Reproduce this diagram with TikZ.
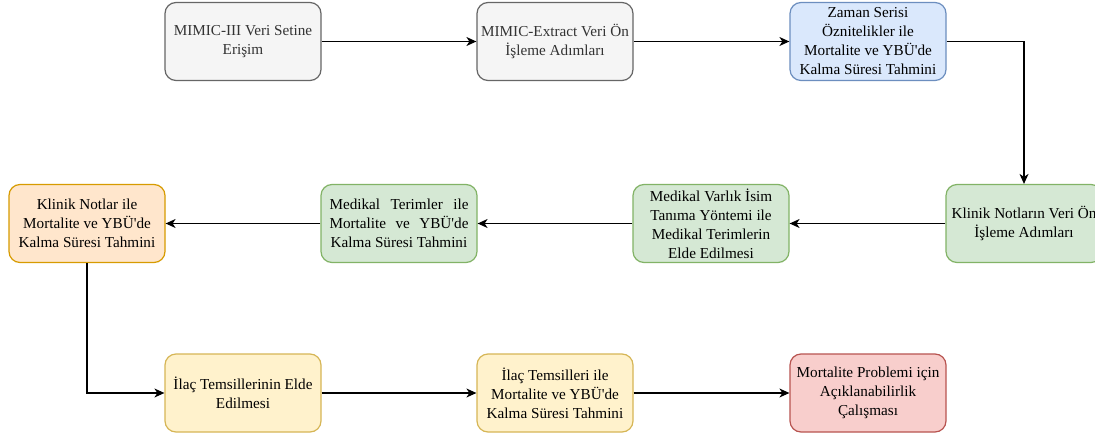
\documentclass[tikz,border=0pt]{standalone}
\usepackage{fontspec}
\setmainfont{Liberation Serif}[Ligatures=TeXOff]
\usetikzlibrary{arrows.meta}
\definecolor{grayfill}{HTML}{F5F5F5}\definecolor{graydraw}{HTML}{666666}\definecolor{graytext}{HTML}{333333}
\definecolor{bluefill}{HTML}{DAE8FC}\definecolor{bluedraw}{HTML}{6C8EBF}
\definecolor{greenfill}{HTML}{D5E8D4}\definecolor{greendraw}{HTML}{82B366}
\definecolor{orangefill}{HTML}{FFE6CC}\definecolor{orangedraw}{HTML}{D79B00}
\definecolor{yellowfill}{HTML}{FFF2CC}\definecolor{yellowdraw}{HTML}{D6B656}
\definecolor{redfill}{HTML}{F8CECC}\definecolor{reddraw}{HTML}{B85450}
\tikzset{
  box/.style={rectangle, rounded corners=11pt, minimum width=156pt, minimum height=78pt,
    inner sep=1pt, align=center, line width=1.2pt,
    font=\fontsize{15.2}{19}\selectfont},
  graybox/.style={box, fill=grayfill, draw=graydraw, text=graytext},
  bluebox/.style={box, fill=bluefill, draw=bluedraw},
  greenbox/.style={box, fill=greenfill, draw=greendraw},
  orangebox/.style={box, fill=orangefill, draw=orangedraw},
  yellowbox/.style={box, fill=yellowfill, draw=yellowdraw},
  redbox/.style={box, fill=redfill, draw=reddraw},
  flow/.style={line width=1.2pt, -{Stealth[length=10pt,width=9pt,inset=3pt]}},
}
\begin{document}
\begin{tikzpicture}[x=1pt,y=-1pt]
\useasboundingbox (0,0) rectangle (1095,439);
\clip (0,0) rectangle (1095,439);
\fill[white] (0,0) rectangle (1095,439);
% first row
\node[graybox] (access) at (243,41.5) {MIMIC-III Veri Setine\\Erişim};
\node[graybox] (extract) at (555,41.5) {MIMIC-Extract Veri Ön\\İşleme Adımları};
\node[bluebox] (series) at (868,41.5) {Zaman Serisi\\Öznitelikler ile\\Mortalite ve YBÜ'de\\Kalma Süresi Tahmini};
% second row
\node[greenbox] (notesprep) at (1024,223.5) {Klinik Notların Veri Ön\\İşleme Adımları};
\node[greenbox] (ner) at (711,223.5) {Medikal Varlık İsim\\Tanıma Yöntemi ile\\Medikal Terimlerin\\Elde Edilmesi};
\node[greenbox] (terms) at (399,223.5) {\makebox[139pt][s]{Medikal Terimler ile}\\\makebox[139pt][s]{Mortalite ve YBÜ'de}\\Kalma Süresi Tahmini};
\node[orangebox] (notes) at (87,223.5) {Klinik Notlar ile\\Mortalite ve YBÜ'de\\Kalma Süresi Tahmini};
% third row
\node[yellowbox] (drugrep) at (243,393) {İlaç Temsillerinin Elde\\Edilmesi};
\node[yellowbox] (drugpred) at (555,393) {İlaç Temsilleri ile\\Mortalite ve YBÜ'de\\Kalma Süresi Tahmini};
\node[redbox] (explain) at (868,393) {Mortalite Problemi için\\Açıklanabilirlik\\Çalışması};
% connectors
\draw[flow] (access) -- (extract);
\draw[flow] (extract) -- (series);
\draw[flow] (series.east) -| (notesprep.north);
\draw[flow] (notesprep) -- (ner);
\draw[flow] (ner) -- (terms);
\draw[flow] (terms) -- (notes);
\draw[flow] (notes.south) |- (drugrep.west);
\draw[flow] (drugrep) -- (drugpred);
\draw[flow] (drugpred) -- (explain);
\end{tikzpicture}
\end{document}
